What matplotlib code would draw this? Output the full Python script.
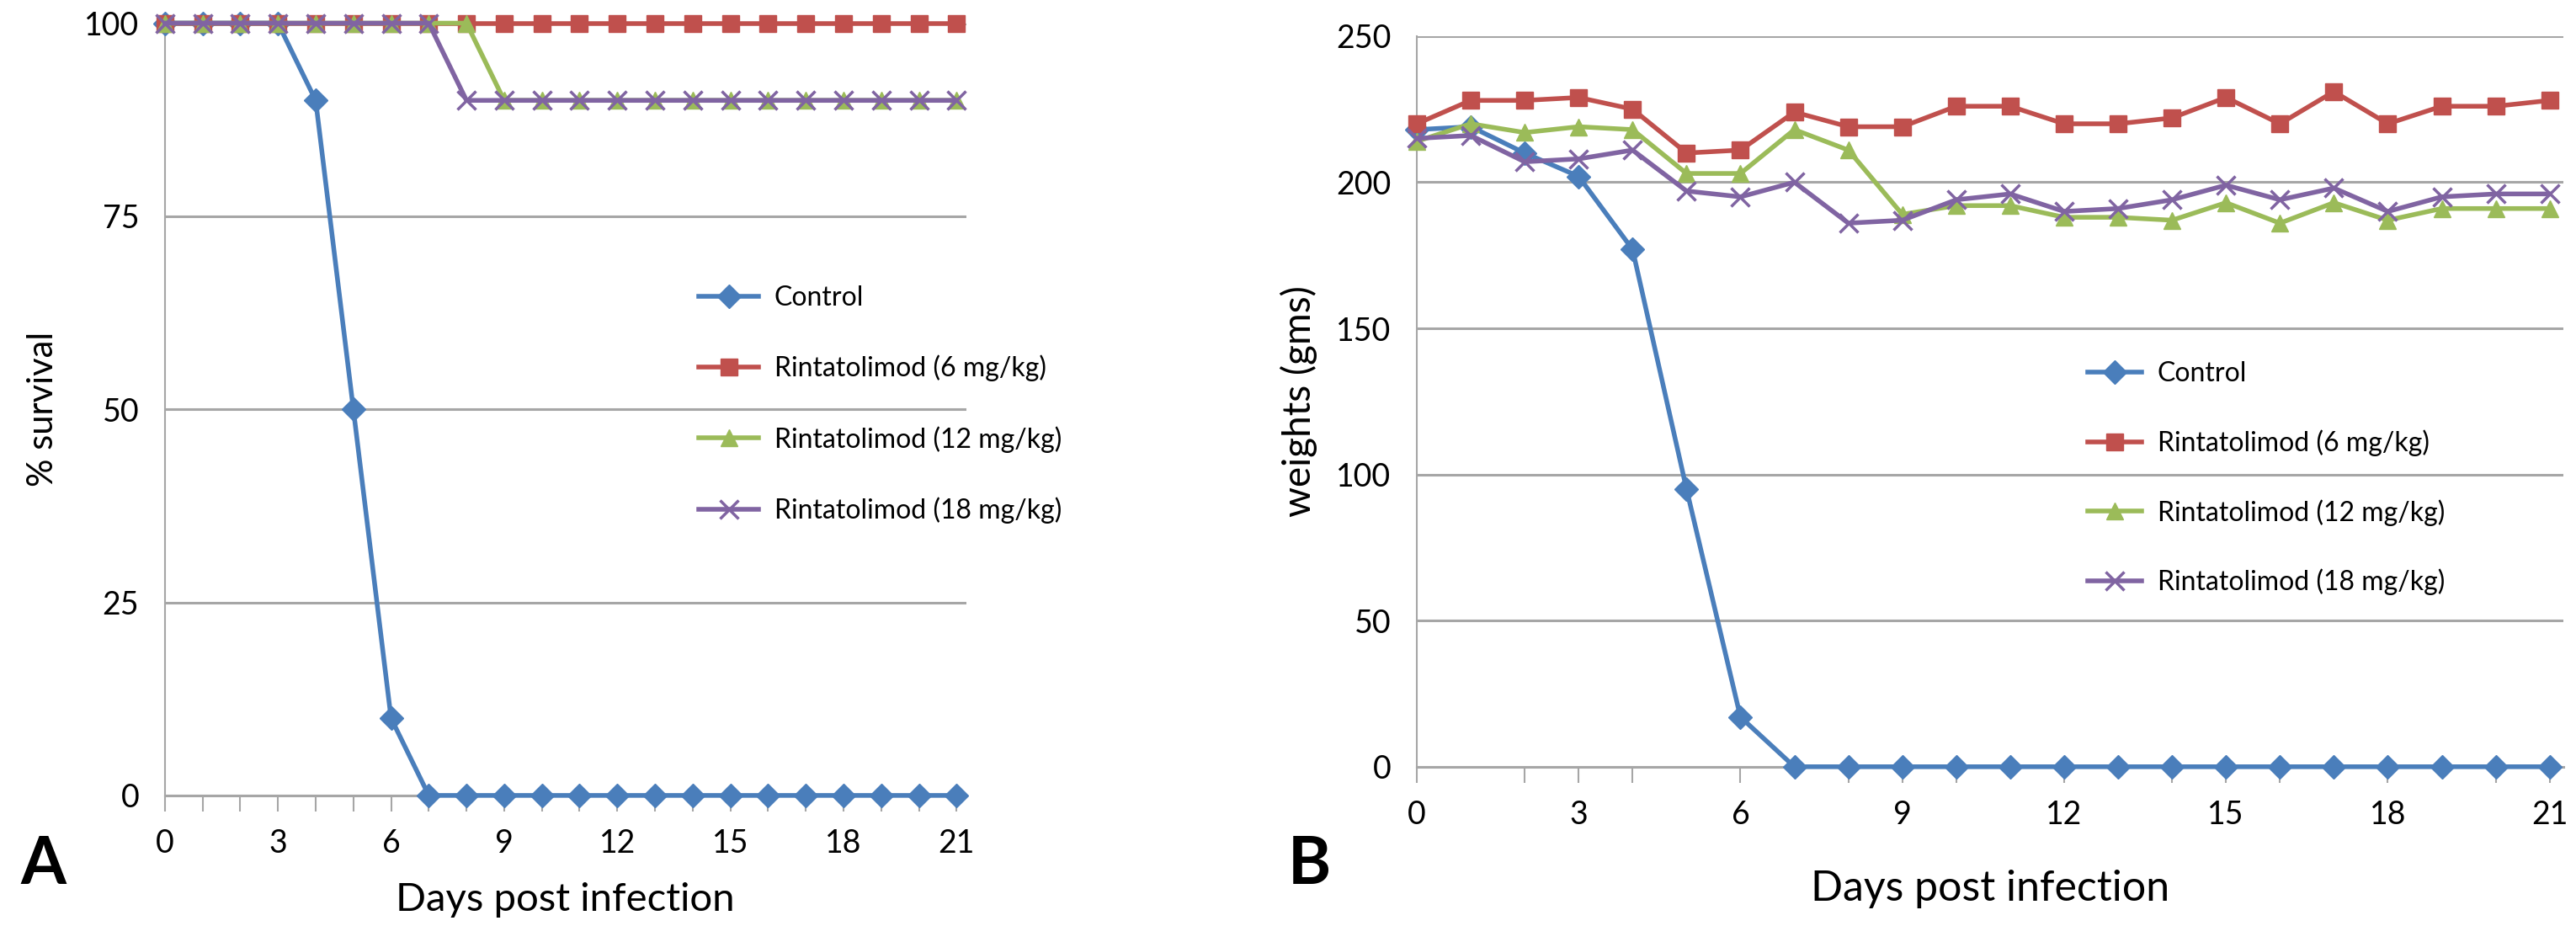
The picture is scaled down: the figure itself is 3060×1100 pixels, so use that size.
import matplotlib
matplotlib.use("Agg")
import matplotlib.pyplot as plt
from matplotlib.ticker import MultipleLocator

plt.rcParams['font.family'] = ['Lato', 'DejaVu Sans']

days = list(range(22))
labels = ["Control", "Rintatolimod (6 mg/kg)", "Rintatolimod (12 mg/kg)", "Rintatolimod (18 mg/kg)"]
colors = ["#4A7EBB", "#C0504D", "#9BBB59", "#8064A2"]
markers = ["D", "s", "^", "x"]

# panel A: % survival
surv_control = [100, 100, 100, 100, 90, 50, 10] + [0] * 15
surv_6 = [100] * 22
surv_12 = [100] * 9 + [90] * 13
surv_18 = [100] * 8 + [90] * 14

# panel B: weights (gms)
wt_control = [218, 219, 210, 202, 177, 95, 17] + [0] * 15
wt_6 = [220, 228, 228, 229, 225, 210, 211, 224, 219, 219, 226, 226,
        220, 220, 222, 229, 220, 231, 220, 226, 226, 228]
wt_12 = [214, 220, 217, 219, 218, 203, 203, 218, 211, 189, 192, 192,
         188, 188, 187, 193, 186, 193, 187, 191, 191, 191]
wt_18 = [215, 216, 207, 208, 211, 197, 195, 200, 186, 187, 194, 196,
         190, 191, 194, 199, 194, 198, 190, 195, 196, 196]

fig = plt.figure(figsize=(30.6, 11), dpi=100)
axA = fig.add_axes([0.064, 0.141, 0.311, 0.834])
axB = fig.add_axes([0.550, 0.172, 0.445, 0.789])

def draw(ax, series, ylim, ystep, xminor):
    for vals, lab, c, m in zip(series, labels, colors, markers):
        ms = 16 if m == "x" else 14
        ax.plot(days, vals, color=c, marker=m, markersize=ms, linewidth=4,
                markeredgewidth=2.5 if m == "x" else 1, label=lab, clip_on=False, zorder=3)
    ax.set_xlim(0, 21.25)
    ax.set_ylim(*ylim)
    ax.yaxis.set_major_locator(MultipleLocator(ystep))
    ax.xaxis.set_major_locator(MultipleLocator(3))
    ax.xaxis.set_minor_locator(MultipleLocator(xminor))
    ax.grid(axis="y", color="#A6A6A6", linewidth=2.2, zorder=0)
    for s in ["top", "right"]:
        ax.spines[s].set_visible(False)
    ax.spines["left"].set_color("#A6A6A6")
    ax.spines["bottom"].set_color("#A6A6A6")
    ax.spines["left"].set_linewidth(1.5)
    ax.spines["bottom"].set_linewidth(2.2)
    ax.tick_params(axis="y", length=0, labelsize=27, pad=22)
    ax.tick_params(axis="x", which="major", length=14, color="#A6A6A6", width=1.5, labelsize=27, pad=14)
    ax.tick_params(axis="x", which="minor", length=14, color="#A6A6A6", width=1.5)

draw(axA, [surv_control, surv_6, surv_12, surv_18], (0, 100), 25, 1)
draw(axB, [wt_control, wt_6, wt_12, wt_18], (0, 250), 50, 2)

axA.set_ylabel("% survival", fontsize=30, labelpad=22)
axA.set_xlabel("Days post infection", fontsize=34, labelpad=20)
axB.set_ylabel("weights (gms)", fontsize=33, labelpad=16)
axB.set_xlabel("Days post infection", fontsize=36, labelpad=34)

axA.legend(loc="upper left", bbox_to_anchor=(0.262, 0.718), bbox_transform=fig.transFigure,
           frameon=False, fontsize=23, labelspacing=1.65, handlelength=2.2, handletextpad=0.6)
axB.legend(loc="upper left", bbox_to_anchor=(0.801, 0.636), bbox_transform=fig.transFigure,
           frameon=False, fontsize=23, labelspacing=1.6, handlelength=2.0, handletextpad=0.6)

fig.text(0.008, 0.045, "A", fontsize=56, fontweight="bold")
fig.text(0.500, 0.045, "B", fontsize=56, fontweight="bold")

fig.savefig("out.png", dpi=100)
